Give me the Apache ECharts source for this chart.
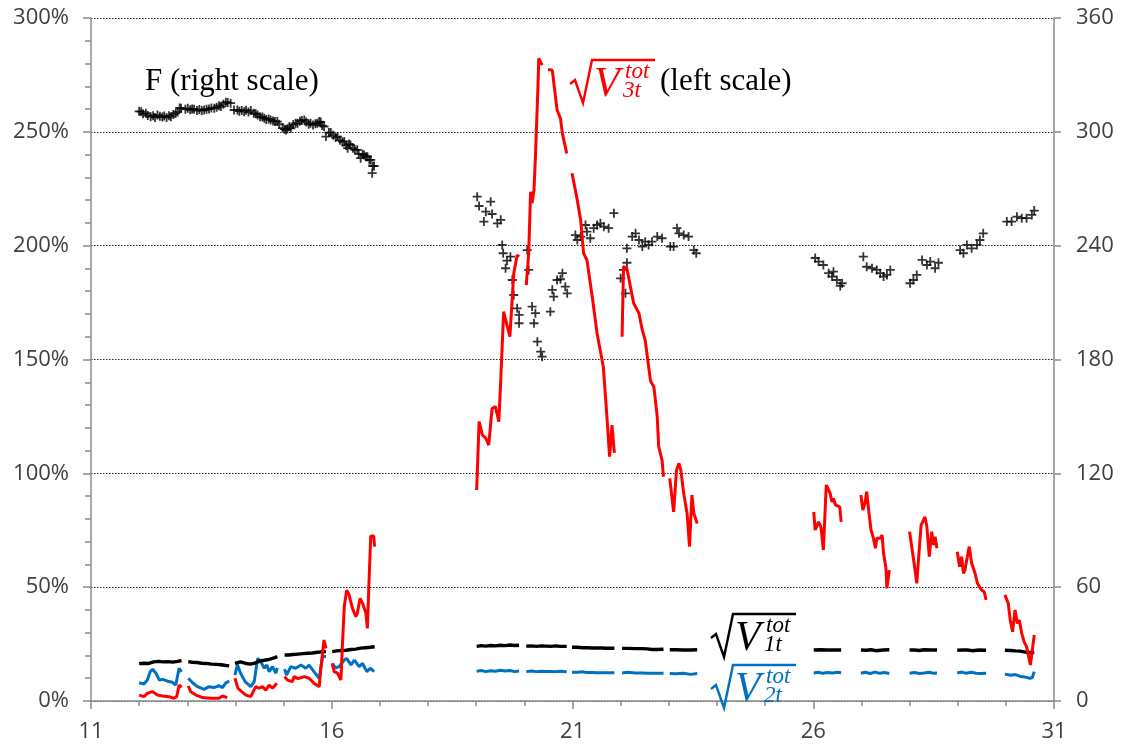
<!DOCTYPE html>
<html>
<head>
<meta charset="utf-8">
<script src="https://cdn.jsdelivr.net/npm/echarts@6/dist/echarts.min.js"></script>
<style>
html,body{margin:0;padding:0;background:#fff;}
#chart{width:1125px;height:752px;}
</style>
</head>
<body>
<div id="chart"></div>
<script>
// x values are days, axis runs 11..31
var dayStart = 11;
var dayEnd = 31;
var xTicks = [11, 16, 21, 26, 31];

// F (right scale), one point per "+" marker
var fRight = [
	[12.00,310.8],[12.04,310.6],[12.08,309.5],[12.14,309.8],[12.18,308.6],[12.24,308.0],[12.29,308.5],[12.33,307.6],[12.38,308.9],[12.43,308.2],
	[12.48,307.8],[12.52,308.4],[12.57,307.5],[12.62,308.5],[12.66,308.0],[12.71,309.2],[12.76,309.8],[12.80,310.5],[12.84,312.6],[12.87,312.4],
	[12.96,311.9],[13.01,312.4],[13.06,311.6],[13.10,312.0],[13.14,311.9],[13.20,311.2],[13.25,311.8],[13.30,311.2],[13.35,311.5],[13.40,311.9],
	[13.45,312.0],[13.50,312.6],[13.56,312.4],[13.61,313.0],[13.66,313.8],[13.70,313.3],[13.75,314.6],[13.80,315.6],[13.84,315.4],[13.90,315.1],
	[13.97,311.5],[14.04,311.5],[14.08,310.9],[14.13,311.3],[14.18,310.6],[14.22,311.4],[14.27,310.4],[14.32,311.2],[14.38,309.8],[14.42,309.5],
	[14.46,308.9],[14.51,307.9],[14.56,307.8],[14.60,307.2],[14.64,306.5],[14.69,306.8],[14.73,306.3],[14.78,305.7],[14.82,305.4],[14.87,305.4],
	[14.91,304.0],[14.98,302.0],[15.02,301.4],[15.05,301.0],[15.08,301.6],[15.12,302.8],[15.15,301.9],[15.20,303.8],[15.25,304.5],[15.29,304.5],
	[15.34,305.6],[15.38,306.0],[15.43,306.3],[15.47,305.2],[15.52,304.0],[15.56,304.5],[15.61,303.6],[15.66,304.3],[15.70,304.5],[15.74,305.4],
	[15.77,305.2],[15.80,303.3],[15.84,302.8],[15.88,297.5],[15.94,299.6],[15.98,299.6],[16.03,298.2],[16.08,297.0],[16.12,297.5],[16.17,295.6],
	[16.22,294.8],[16.26,294.9],[16.30,292.8],[16.33,291.4],[16.36,293.6],[16.39,293.1],[16.44,291.3],[16.48,290.5],[16.53,290.5],[16.56,288.4],
	[16.60,286.1],[16.64,288.2],[16.67,287.8],[16.71,286.9],[16.74,286.9],[16.78,285.2],[16.81,285.2],[16.85,282.0],[16.88,282.0],[16.84,278.2],
	[19.02,265.8],[19.06,260.9],[19.16,252.7],[19.20,257.9],[19.30,263.2],[19.33,256.7],[19.44,251.8],[19.51,253.6],[19.54,240.4],[19.56,236.0],
	[19.61,228.1],[19.64,232.1],[19.71,234.2],[19.75,221.9],[19.78,214.0],[19.85,207.0],[19.89,203.5],[19.89,199.1],[20.06,237.7],[20.09,227.2],
	[20.16,207.9],[20.20,199.1],[20.23,204.4],[20.27,189.4],[20.34,184.1],[20.37,181.5],[20.54,205.2],[20.58,216.7],[20.61,213.1],[20.68,221.9],
	[20.75,222.3],[20.79,225.5],[20.85,218.4],[20.89,214.9],[21.06,245.6],[21.10,243.0],[21.17,244.8],[21.27,250.9],[21.30,247.4],[21.37,243.9],
	[21.44,249.2],[21.51,250.9],[21.58,251.8],[21.65,250.0],[21.75,249.2],[21.86,257.1],[22.00,222.8],[22.06,227.2],[22.13,231.0],[22.10,214.9],
	[22.13,238.6],[22.24,244.8],[22.31,246.5],[22.38,243.0],[22.45,239.5],[22.51,242.1],[22.58,240.4],[22.65,242.1],[22.76,244.8],[22.86,243.9],
	[23.03,239.5],[23.10,239.5],[23.17,249.2],[23.21,246.5],[23.31,245.6],[23.41,244.8],[23.52,237.7],[23.57,236.0],
	[26.04,233.5],[26.11,231.6],[26.21,229.8],[26.32,225.5],[26.39,223.7],[26.42,226.3],[26.49,221.9],[26.56,218.8],[26.60,220.2],
	[27.04,234.2],[27.11,228.9],[27.22,228.1],[27.32,227.2],[27.39,225.5],[27.46,223.7],[27.53,224.6],[27.60,227.2],
	[28.01,220.2],[28.08,221.9],[28.15,224.6],[28.26,232.5],[28.36,229.8],[28.43,231.6],[28.53,228.1],[28.60,231.0],
	[29.05,237.7],[29.12,236.0],[29.19,240.4],[29.29,238.6],[29.40,240.4],[29.46,243.0],[29.53,246.5],
	[30.02,252.7],[30.12,252.7],[30.23,255.3],[30.33,254.5],[30.43,254.5],[30.54,256.2],[30.59,258.5]
];

// sqrt(V3t) in %, null = no data
var v3 = [
	[12.00,2.6],[12.10,1.9],[12.17,3.4],[12.28,4.1],[12.38,2.6],[12.49,2.2],[12.62,1.9],[12.72,1.2],[12.78,1.9],[12.83,7.0],[12.88,6.0],null,
	[13.02,6.6],[13.07,4.1],[13.18,2.6],[13.32,1.5],[13.48,1.2],[13.66,1.2],[13.73,2.2],[13.83,1.5],null,
	[13.99,10.0],[14.05,5.6],[14.13,4.1],[14.22,2.6],[14.32,1.9],[14.42,6.3],[14.49,5.6],[14.56,6.3],[14.63,4.8],[14.70,7.0],[14.77,5.6],[14.86,7.8],null,
	[15.02,10.7],[15.08,9.2],[15.18,8.5],[15.22,10.7],[15.30,9.8],[15.43,10.7],[15.53,10.0],[15.63,7.8],[15.74,6.3],[15.77,13.6],[15.84,26.8],[15.88,23.1],null,
	[16.01,16.5],[16.05,12.9],[16.12,12.2],[16.19,9.2],[16.22,23.8],[16.26,41.4],[16.31,48.7],[16.36,46.6],[16.43,40.7],[16.50,37.0],[16.53,38.5],
	[16.59,45.1],[16.64,42.9],[16.71,38.5],[16.74,31.9],[16.77,50.2],[16.81,72.5],[16.87,72.5],[16.89,67.8],null,
	[19.01,92.7],[19.06,122.7],[19.13,116.8],[19.20,115.4],[19.26,112.4],[19.33,128.5],[19.40,129.3],[19.47,122.7],[19.51,141.0],[19.57,171.0],
	[19.70,160.0],[19.78,187.8],[19.85,195.9],[19.89,195.1],null,
	[20.04,182.7],[20.09,196.6],[20.13,223.7],[20.16,218.6],[20.20,224.4],[20.23,239.0],[20.28,268.3],[20.30,282.3],[20.37,279.3],null,
	[20.49,277.4],[20.58,277.1],[20.68,259.6],[20.75,255.9],[20.79,249.3],[20.88,240.5],null,
	[20.99,231.8],[21.10,220.0],[21.17,211.2],[21.23,196.6],[21.30,193.7],[21.41,177.6],[21.51,161.5],[21.64,146.8],[21.68,135.1],[21.72,123.4],
	[21.77,107.3],[21.82,121.2],[21.87,109.0],null,
	[22.03,160.0],[22.06,190.7],[22.13,190.0],[22.27,174.7],[22.38,170.3],[22.45,162.9],[22.51,158.5],[22.62,140.6],[22.69,138.0],[22.76,124.9],
	[22.79,111.7],[22.86,105.8],[22.89,98.5],null,
	[23.02,97.8],[23.10,83.1],[23.16,101.4],[23.21,104.4],[23.25,101.4],[23.31,91.2],[23.38,82.4],[23.43,67.8],[23.48,90.5],[23.52,82.4],[23.59,78.0],null,
	[26.01,83.1],[26.04,75.1],[26.11,78.7],[26.16,76.5],[26.21,66.3],[26.27,94.9],[26.32,92.7],[26.35,91.2],[26.39,87.5],[26.42,89.0],[26.46,86.1],
	[26.49,86.8],[26.55,85.3],[26.58,78.7],null,
	[26.99,90.5],[27.03,83.9],[27.08,87.5],[27.11,91.9],[27.15,83.9],[27.20,75.1],[27.25,71.5],[27.29,67.1],[27.32,71.5],[27.39,71.5],[27.43,72.9],
	[27.46,64.9],[27.51,58.3],[27.53,49.5],[27.58,57.5],null,
	[28.00,74.4],[28.05,67.1],[28.10,59.7],[28.15,51.7],[28.18,60.5],[28.24,77.3],[28.28,76.5],[28.32,80.9],[28.36,76.5],[28.41,63.4],[28.46,74.4],
	[28.50,68.5],[28.53,72.2],[28.57,67.1],null,
	[28.99,65.6],[29.04,59.0],[29.08,63.4],[29.12,56.1],[29.15,57.5],[29.20,63.4],[29.24,67.8],[29.29,60.5],[29.36,56.1],[29.41,51.7],[29.45,50.2],
	[29.50,48.7],[29.55,48.0],[29.59,44.4],null,
	[29.98,46.6],[30.05,42.9],[30.09,35.6],[30.14,30.4],[30.19,40.0],[30.24,34.1],[30.28,35.6],[30.33,29.7],[30.38,26.0],[30.43,23.9],[30.46,20.9],
	[30.51,15.8],[30.55,22.4],[30.59,29.0]
];

// sqrt(V1t) in %
var v1 = [
	[12.00,16.4],[12.10,16.6],[12.20,16.5],[12.30,17.2],[12.40,17.4],[12.50,17.2],[12.60,17.3],[12.70,17.1],[12.80,17.4],[12.88,17.8],null,
	[13.02,17.3],[13.10,17.0],[13.20,16.9],[13.30,16.6],[13.40,16.5],[13.50,16.2],[13.60,16.1],[13.70,15.9],[13.80,15.6],[13.87,15.4],null,
	[13.99,16.5],[14.10,17.2],[14.20,16.6],[14.30,16.2],[14.40,16.6],[14.50,17.5],[14.60,17.9],[14.70,18.3],[14.80,18.9],[14.87,19.5],null,
	[15.02,20.2],[15.10,20.2],[15.20,20.4],[15.30,20.6],[15.40,20.8],[15.50,21.0],[15.60,21.1],[15.70,21.4],[15.80,21.6],[15.88,21.7],null,
	[16.01,21.7],[16.10,22.0],[16.20,22.2],[16.30,22.3],[16.40,22.6],[16.50,22.8],[16.60,23.2],[16.70,23.4],[16.80,23.6],[16.89,23.8],null,
	[19.01,24.0],[19.10,24.3],[19.20,24.1],[19.30,24.4],[19.40,24.2],[19.50,24.5],[19.60,24.3],[19.70,24.6],[19.80,24.4],[19.89,24.5],null,
	[20.04,24.1],[20.15,24.2],[20.25,24.0],[20.35,24.2],[20.45,24.1],[20.55,24.0],[20.65,24.2],[20.75,24.0],[20.88,24.0],null,
	[20.99,23.6],[21.10,23.6],[21.20,23.4],[21.30,23.4],[21.40,23.3],[21.50,23.3],[21.60,23.3],[21.70,23.2],[21.87,23.2],null,
	[22.03,23.1],[22.15,23.1],[22.30,23.0],[22.45,23.0],[22.55,22.9],[22.65,22.6],[22.75,22.6],[22.89,22.7],null,
	[23.02,22.5],[23.15,22.5],[23.30,22.4],[23.45,22.4],[23.59,22.5],null,
	[26.01,22.4],[26.15,22.5],[26.30,22.4],[26.45,22.4],[26.58,22.4],null,
	[26.99,22.4],[27.10,22.3],[27.20,22.5],[27.30,22.1],[27.45,22.4],[27.58,22.5],null,
	[28.00,22.4],[28.10,22.4],[28.20,22.2],[28.30,22.5],[28.45,22.4],[28.57,22.4],null,
	[28.99,22.3],[29.10,22.4],[29.20,22.4],[29.30,22.1],[29.45,22.4],[29.59,22.3],null,
	[29.98,22.3],[30.10,22.2],[30.20,22.0],[30.30,21.9],[30.40,21.5],[30.50,21.3],[30.59,21.4]
];

// sqrt(V2t) in %
var v2 = [
	[12.00,8.0],[12.10,7.5],[12.17,9.2],[12.23,12.9],[12.28,13.9],[12.35,12.2],[12.42,9.2],[12.49,9.5],[12.59,8.7],[12.69,8.2],[12.76,7.0],[12.83,14.4],[12.88,12.8],null,
	[13.02,10.0],[13.11,8.0],[13.21,6.3],[13.35,5.1],[13.45,6.3],[13.55,5.9],[13.66,6.7],[13.73,5.9],[13.80,8.0],[13.87,8.7],null,
	[13.99,11.4],[14.04,16.0],[14.10,12.5],[14.20,8.5],[14.32,6.3],[14.39,8.5],[14.46,18.7],[14.52,17.5],[14.60,14.4],[14.65,15.8],[14.70,12.9],
	[14.77,15.1],[14.84,12.2],[14.87,14.6],null,
	[15.02,14.0],[15.06,11.4],[15.15,15.1],[15.25,14.4],[15.36,15.8],[15.46,14.4],[15.53,15.8],[15.63,12.9],[15.74,10.0],[15.81,19.5],[15.88,19.5],null,
	[16.01,16.5],[16.08,14.5],[16.15,15.1],[16.26,18.0],[16.31,18.7],[16.40,15.8],[16.47,18.0],[16.57,15.1],[16.64,16.5],[16.73,12.9],[16.80,14.4],[16.88,12.9],null,
	[19.01,13.0],[19.10,13.4],[19.20,12.9],[19.30,13.3],[19.40,13.1],[19.50,13.5],[19.60,13.2],[19.70,13.4],[19.80,12.9],[19.89,13.2],null,
	[20.04,12.9],[20.15,13.2],[20.25,12.9],[20.35,13.1],[20.45,13.0],[20.55,13.0],[20.65,12.9],[20.75,13.1],[20.88,12.8],null,
	[20.99,12.6],[21.10,12.6],[21.20,12.8],[21.30,12.5],[21.40,12.5],[21.50,12.4],[21.60,12.4],[21.70,12.4],[21.87,12.4],null,
	[22.03,12.3],[22.15,12.6],[22.30,12.3],[22.45,12.3],[22.55,12.2],[22.65,12.2],[22.75,12.2],[22.89,12.2],null,
	[23.02,12.1],[23.15,12.0],[23.30,12.2],[23.45,11.7],[23.59,12.1],null,
	[26.01,12.3],[26.10,12.6],[26.20,12.2],[26.30,12.5],[26.40,12.3],[26.50,12.6],[26.58,12.4],null,
	[26.99,12.2],[27.08,12.6],[27.18,12.1],[27.28,12.7],[27.38,12.2],[27.48,12.5],[27.58,12.1],null,
	[28.00,12.2],[28.10,12.5],[28.20,12.1],[28.30,12.3],[28.40,12.6],[28.50,12.2],[28.57,12.3],null,
	[28.99,12.3],[29.08,12.7],[29.18,12.2],[29.28,12.6],[29.38,12.2],[29.48,12.1],[29.59,12.2],null,
	[29.98,11.8],[30.10,11.3],[30.20,11.6],[30.30,10.8],[30.40,10.5],[30.50,10.0],[30.55,10.3],[30.59,12.9]
];

var axisColor = '#8c8c8c';
var labelColor = '#404040';
var labelFont = 'Open Sans';

// shift days so that ticks start at 0 (11 -> 0)
function toXY(arr){
	var out = [];
	var lastX = 0;
	for(var i=0;i<arr.length;i++){
		if(arr[i]==null){
			out.push([lastX, '-']);
		}else{
			lastX = arr[i][0] - dayStart;
			out.push([lastX, arr[i][1]]);
		}
	}
	return out;
}

// square-root label: sqrt sign + V with stacked sup/sub
function rootLabel(x, y, sub, color){
	// x,y = left end of the overline
	return [
		{type:'polyline', shape:{points:[[x-22,y+24],[x-17,y+20],[x-9,y+43],[x,y],[x+63,y]]},
			style:{stroke:color, lineWidth:2.4, fill:null}, z:100},
		{type:'text', x:x+2, y:y+25, style:{text:'V', font:'italic 42px "Liberation Serif"', fill:color, textVerticalAlign:'middle'}, z:100},
		{type:'text', x:x+33, y:y+12, style:{text:'tot', font:'italic 23px "Liberation Serif"', fill:color, textVerticalAlign:'middle'}, z:100},
		{type:'text', x:x+31, y:y+31, style:{text:sub, font:'italic 23px "Liberation Serif"', fill:color, textVerticalAlign:'middle'}, z:100}
	];
}

var chart;
function showChart(){
	chart = echarts.init(document.getElementById('chart'), null, {renderer:'canvas'});
	var graphics = [
		{type:'text', x:145, y:82, style:{text:'F (right scale)', font:'31px "Liberation Serif"', fill:'#000', textVerticalAlign:'middle'}, z:100},
		{type:'text', x:660, y:82, style:{text:'(left scale)', font:'31px "Liberation Serif"', fill:'#000', textVerticalAlign:'middle'}, z:100}
	];
	graphics = graphics.concat(rootLabel(592, 60, '3t', '#ff0000'));
	graphics = graphics.concat(rootLabel(733, 614, '1t', '#000000'));
	graphics = graphics.concat(rootLabel(733, 665, '2t', '#0070c0'));

	var option = {
		animation:false,
		backgroundColor:'#fff',
		grid:{left:91, right:71, top:18, bottom:51, containLabel:false},
		xAxis:{
			type:'value',
			min:0,
			max:dayEnd-dayStart,
			interval:5,
			axisLine:{show:true, onZero:false, lineStyle:{color:axisColor, width:1.5}},
			axisTick:{show:true, length:8, lineStyle:{color:axisColor, width:1.5}},
			minorTick:{show:true, splitNumber:5, length:5, lineStyle:{color:axisColor, width:1.5}},
			splitLine:{show:false},
			axisLabel:{
				margin:20, color:labelColor, fontSize:22, fontFamily:labelFont,
				formatter:function(v){ return xTicks.indexOf(v+dayStart)>=0 ? String(v+dayStart) : ''; }
			}
		},
		yAxis:[
			{
				type:'value', position:'left', min:0, max:300, interval:50,
				axisLine:{show:true, lineStyle:{color:axisColor, width:1.5}},
				axisTick:{show:true, length:8, lineStyle:{color:axisColor, width:1.5}},
				minorTick:{show:true, splitNumber:5, length:6, lineStyle:{color:axisColor, width:1.5}},
				splitLine:{show:true, lineStyle:{color:'#222', width:1, type:[1.5,1.5]}},
				axisLabel:{margin:22, color:labelColor, fontSize:22, fontFamily:labelFont, formatter:'{value}%'}
			},
			{
				type:'value', position:'right', min:0, max:360, interval:60,
				axisLine:{show:true, lineStyle:{color:axisColor, width:1.5}},
				axisTick:{show:true, length:7, lineStyle:{color:axisColor, width:1.5}},
				splitLine:{show:false},
				axisLabel:{margin:22, color:labelColor, fontSize:22, fontFamily:labelFont}
			}
		],
		series:[
			{
				name:'sqrt V2t', type:'line', yAxisIndex:0, data:toXY(v2),
				showSymbol:false, connectNulls:false,
				lineStyle:{color:'#0070c0', width:3}
			},
			{
				name:'sqrt V1t', type:'line', yAxisIndex:0, data:toXY(v1),
				showSymbol:false, connectNulls:false,
				lineStyle:{color:'#000', width:3.4}
			},
			{
				name:'F', type:'scatter', yAxisIndex:1, data:toXY(fRight),
				symbol:'path://M3.6,0H5.4V3.6H9V5.4H5.4V9H3.6V5.4H0V3.6H3.6Z', symbolSize:9,
				itemStyle:{color:'#000'}
			},
			{
				name:'sqrt V3t', type:'line', yAxisIndex:0, data:toXY(v3),
				showSymbol:false, connectNulls:false,
				lineStyle:{color:'#ff0000', width:3}
			}
		],
		graphic:graphics
	};
	chart.setOption(option);
}

showChart();
</script>
</body>
</html>
